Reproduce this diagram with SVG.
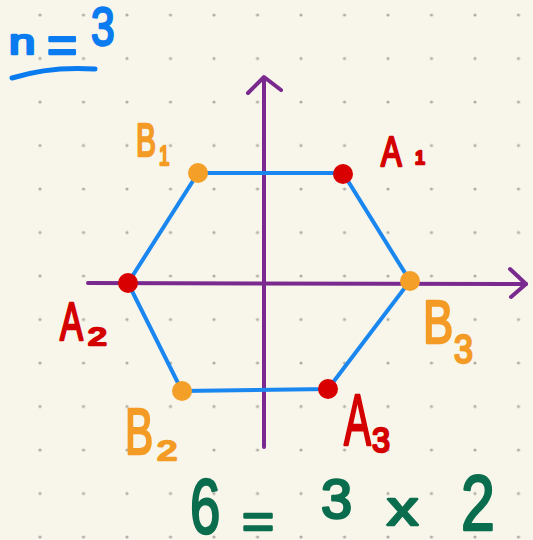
<svg xmlns="http://www.w3.org/2000/svg" width="533" height="540" viewBox="0 0 533 540">
<defs>
<pattern id="grid" x="40" y="15" width="43.5" height="43.5" patternUnits="userSpaceOnUse">
<circle cx="0" cy="0" r="1.6" fill="#b0aea6"/>
<circle cx="43.5" cy="0" r="1.6" fill="#b0aea6"/>
<circle cx="0" cy="43.5" r="1.6" fill="#b0aea6"/>
<circle cx="43.5" cy="43.5" r="1.6" fill="#b0aea6"/>
</pattern>
<style>
.hand{font-family:"Liberation Sans","DejaVu Sans",sans-serif;stroke-linejoin:round;stroke-linecap:round}
.blue{fill:#0b7cf0;stroke:#0b7cf0;stroke-width:2.5}
.red{fill:#d40000;stroke:#d40000;stroke-width:2.5}
.orange{fill:#f39b25;stroke:#f39b25;stroke-width:2.5}
.green{fill:#0a6d4e;stroke:#0a6d4e;stroke-width:2.5}
.axis{fill:none;stroke:#7a2a8e;stroke-width:4;stroke-linecap:round;stroke-linejoin:round}
.edge{fill:none;stroke:#1a86f0;stroke-width:4;stroke-linecap:round}
.dotA{fill:#d80000}
.dotB{fill:#f4a028}
</style>
</defs>
<rect width="533" height="540" fill="#f8f6ea"/>
<rect width="533" height="540" fill="url(#grid)"/>

<g id="title">
<text class="hand blue" font-size="35" transform="translate(9,54) scale(1.35,1)">n</text>
<text class="hand blue" font-size="52" transform="translate(47,63)">=</text>
<text class="hand blue" font-size="53" transform="translate(91,45) scale(0.8,1)">3</text>
<path d="M12,78 Q50,66 95,69" fill="none" stroke="#0b7cf0" stroke-width="5" stroke-linecap="round"/>
</g>

<g id="connectors">
<path class="axis" d="M88,283 L526,284"/>
<path class="axis" d="M510,269 L526,284 L511,297"/>
<path class="axis" d="M264,447 L264,78"/>
<path class="axis" d="M248,93 L264,77 L281,90"/>
<path class="edge" d="M198,173 L343,173 L410,281 L328,389 L182,391 L128,283 Z"/>
</g>

<g id="B1">
<circle class="dotB" cx="198" cy="173" r="10"/>
<text class="hand orange" font-size="46" transform="translate(136,156) scale(0.65,1)">B</text>
<text class="hand orange" font-size="27" transform="translate(159,165) scale(0.7,1)">1</text>
</g>
<g id="A1">
<circle class="dotA" cx="343" cy="174" r="10"/>
<text class="hand red" font-size="43" transform="translate(381,166) scale(0.72,1)">A</text>
<text class="hand red" font-size="18" transform="translate(415,164)">1</text>
</g>
<g id="B3">
<circle class="dotB" cx="410" cy="281" r="10"/>
<text class="hand orange" font-size="62" transform="translate(423,343) scale(0.73,1)">B</text>
<text class="hand orange" font-size="40" transform="translate(454,363) scale(0.85,1)">3</text>
</g>
<g id="A3">
<circle class="dotA" cx="328" cy="389" r="10"/>
<text class="hand red" font-size="72" transform="translate(344,445) scale(0.56,1)">A</text>
<text class="hand red" font-size="36" transform="translate(372,452) scale(0.9,1)">3</text>
</g>
<g id="B2">
<circle class="dotB" cx="182" cy="391" r="10"/>
<text class="hand orange" font-size="65" transform="translate(125,454) scale(0.65,1)">B</text>
<text class="hand orange" font-size="28" transform="translate(157,460) scale(1.3,1)">2</text>
</g>
<g id="A2">
<circle class="dotA" cx="128" cy="283" r="10"/>
<text class="hand red" font-size="53" transform="translate(60,340) scale(0.65,1)">A</text>
<text class="hand red" font-size="24" transform="translate(88,345) scale(1.4,1)">2</text>
</g>

<g id="equation">
<text class="hand green" font-size="78" transform="translate(190,533) scale(0.7,1)">6</text>
<text class="hand green" font-size="50" transform="translate(242,538) scale(1.1,1)">=</text>
<text class="hand green" font-size="56" transform="translate(321,518)">3</text>
<text class="hand green" font-size="48" transform="translate(387,525) scale(1.3,1)">x</text>
<text class="hand green" font-size="78" transform="translate(461,530) scale(0.78,1)">2</text>
</g>
</svg>
